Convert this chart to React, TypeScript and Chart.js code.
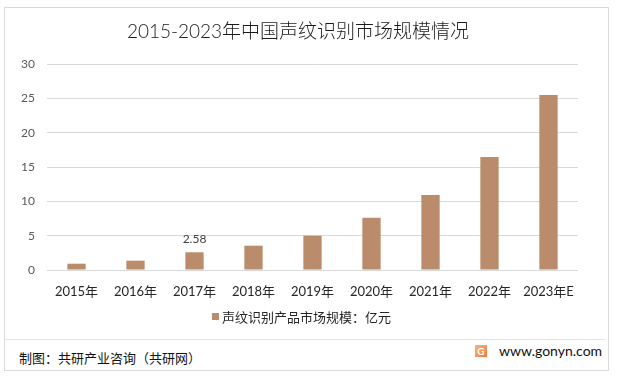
import React, { useEffect, useRef } from "react";
import { Chart, registerables } from "chart.js";

Chart.register(...registerables);

const categories = ["2015年", "2016年", "2017年", "2018年", "2019年", "2020年", "2021年", "2022年", "2023年E"];
const marketSize = [0.92, 1.36, 2.58, 3.54, 5.0, 7.62, 10.92, 16.46, 25.49];
const dataLabels = ["", "", "2.58", "", "", "", "", "", ""];
const yTicks = [0, 5, 10, 15, 20, 25, 30];
const seriesName = "声纹识别产品市场规模：亿元";
const titleText = "2015-2023年中国声纹识别市场规模情况";
const sourceText = "制图：共研产业咨询（共研网）";
const siteText = "www.gonyn.com";

const BAR = "#BB8C6B";
const FONT = "Lato, 'Noto Sans CJK SC', sans-serif";

const labelPlugin = {
  id: "pointLabels",
  afterDatasetsDraw(chart: any) {
    const ctx = chart.ctx;
    const meta = chart.getDatasetMeta(0);
    ctx.save();
    ctx.font = "12px " + FONT;
    ctx.fillStyle = "#404040";
    ctx.textAlign = "center";
    ctx.textBaseline = "bottom";
    meta.data.forEach((el: any, i: number) => {
      const t = dataLabels[i];
      if (t) ctx.fillText(t, el.x, el.y - 7);
    });
    ctx.restore();
  },
};

export default function App() {
  const ref = useRef<HTMLCanvasElement>(null);
  useEffect(() => {
    if (!ref.current) return;
    const chart = new Chart(ref.current, {
      type: "bar",
      data: {
        labels: categories,
        datasets: [
          {
            label: seriesName,
            data: marketSize,
            backgroundColor: BAR,
            categoryPercentage: 1,
            barPercentage: 0.31,
          },
        ],
      },
      options: {
        animation: false,
        responsive: false,
        maintainAspectRatio: false,
        layout: { padding: { left: 7, right: 39, top: 64, bottom: 40 } },
        plugins: {
          legend: { display: false },
          title: { display: false },
          tooltip: { enabled: false },
        },
        scales: {
          x: {
            grid: { display: false, drawTicks: false },
            border: { display: false },
            ticks: { font: { size: 13, family: FONT }, color: "#262626", padding: 14, maxRotation: 0 },
            afterFit: (s: any) => {
              s.height = 30;
            },
          },
          y: {
            min: 0,
            max: 30,
            afterBuildTicks: (s: any) => {
              s.ticks = yTicks.map((v) => ({ value: v }));
            },
            grid: { color: "#D9D9D9", drawTicks: false, lineWidth: 1 },
            border: { display: false },
            ticks: { font: { size: 12, family: FONT }, color: "#595959", padding: 12 },
            afterFit: (s: any) => {
              s.width = 40;
            },
          },
        },
      },
      plugins: [labelPlugin],
    });
    return () => chart.destroy();
  }, []);

  return (
    <div>
      <div
        style={{
          position: "absolute",
          left: 4,
          top: 7,
          width: 605,
          height: 364,
          border: "1px solid #D9D9D9",
          boxSizing: "border-box",
          background: "#fff",
        }}
      />
      <div
        style={{
          position: "absolute",
          left: 5,
          top: 339,
          width: 600,
          height: 1,
          background: "#E3E3E3",
        }}
      />
      <canvas
        ref={ref}
        width={617}
        height={340}
        style={{ position: "absolute", left: 0, top: 0, width: 617, height: 340 }}
      />
      <div
        style={{
          position: "absolute",
          left: 0,
          width: 596,
          top: 19,
          textAlign: "center",
          fontFamily: FONT,
          fontSize: 19,
          fontWeight: 300,
          lineHeight: "24px",
          color: "#1a1a1a",
          whiteSpace: "nowrap",
        }}
      >
        {titleText}
      </div>
      <div
        style={{
          position: "absolute",
          left: 212,
          top: 307,
          height: 18,
          display: "flex",
          alignItems: "center",
          fontFamily: FONT,
          fontSize: 13,
          color: "#262626",
          whiteSpace: "nowrap",
        }}
      >
        <span style={{ display: "inline-block", width: 7, height: 7, background: BAR, marginRight: 3 }} />
        <span>{seriesName}</span>
      </div>
      <div
        style={{
          position: "absolute",
          left: 19,
          top: 349,
          fontFamily: FONT,
          fontSize: 13,
          lineHeight: "18px",
          color: "#111",
          whiteSpace: "nowrap",
        }}
      >
        {sourceText}
      </div>
      <div
        style={{
          position: "absolute",
          left: 475,
          top: 345,
          width: 12,
          height: 12,
          background: "linear-gradient(135deg, #F7B77A, #EE7A3C)",
          color: "#fff",
          fontFamily: FONT,
          fontSize: 10,
          fontWeight: 700,
          lineHeight: "12px",
          textAlign: "center",
        }}
      >
        G
      </div>
      <div
        style={{
          position: "absolute",
          left: 499,
          top: 341,
          fontFamily: FONT,
          fontSize: 14,
          lineHeight: "20px",
          color: "#111",
          whiteSpace: "nowrap",
        }}
      >
        {siteText}
      </div>
    </div>
  );
}
